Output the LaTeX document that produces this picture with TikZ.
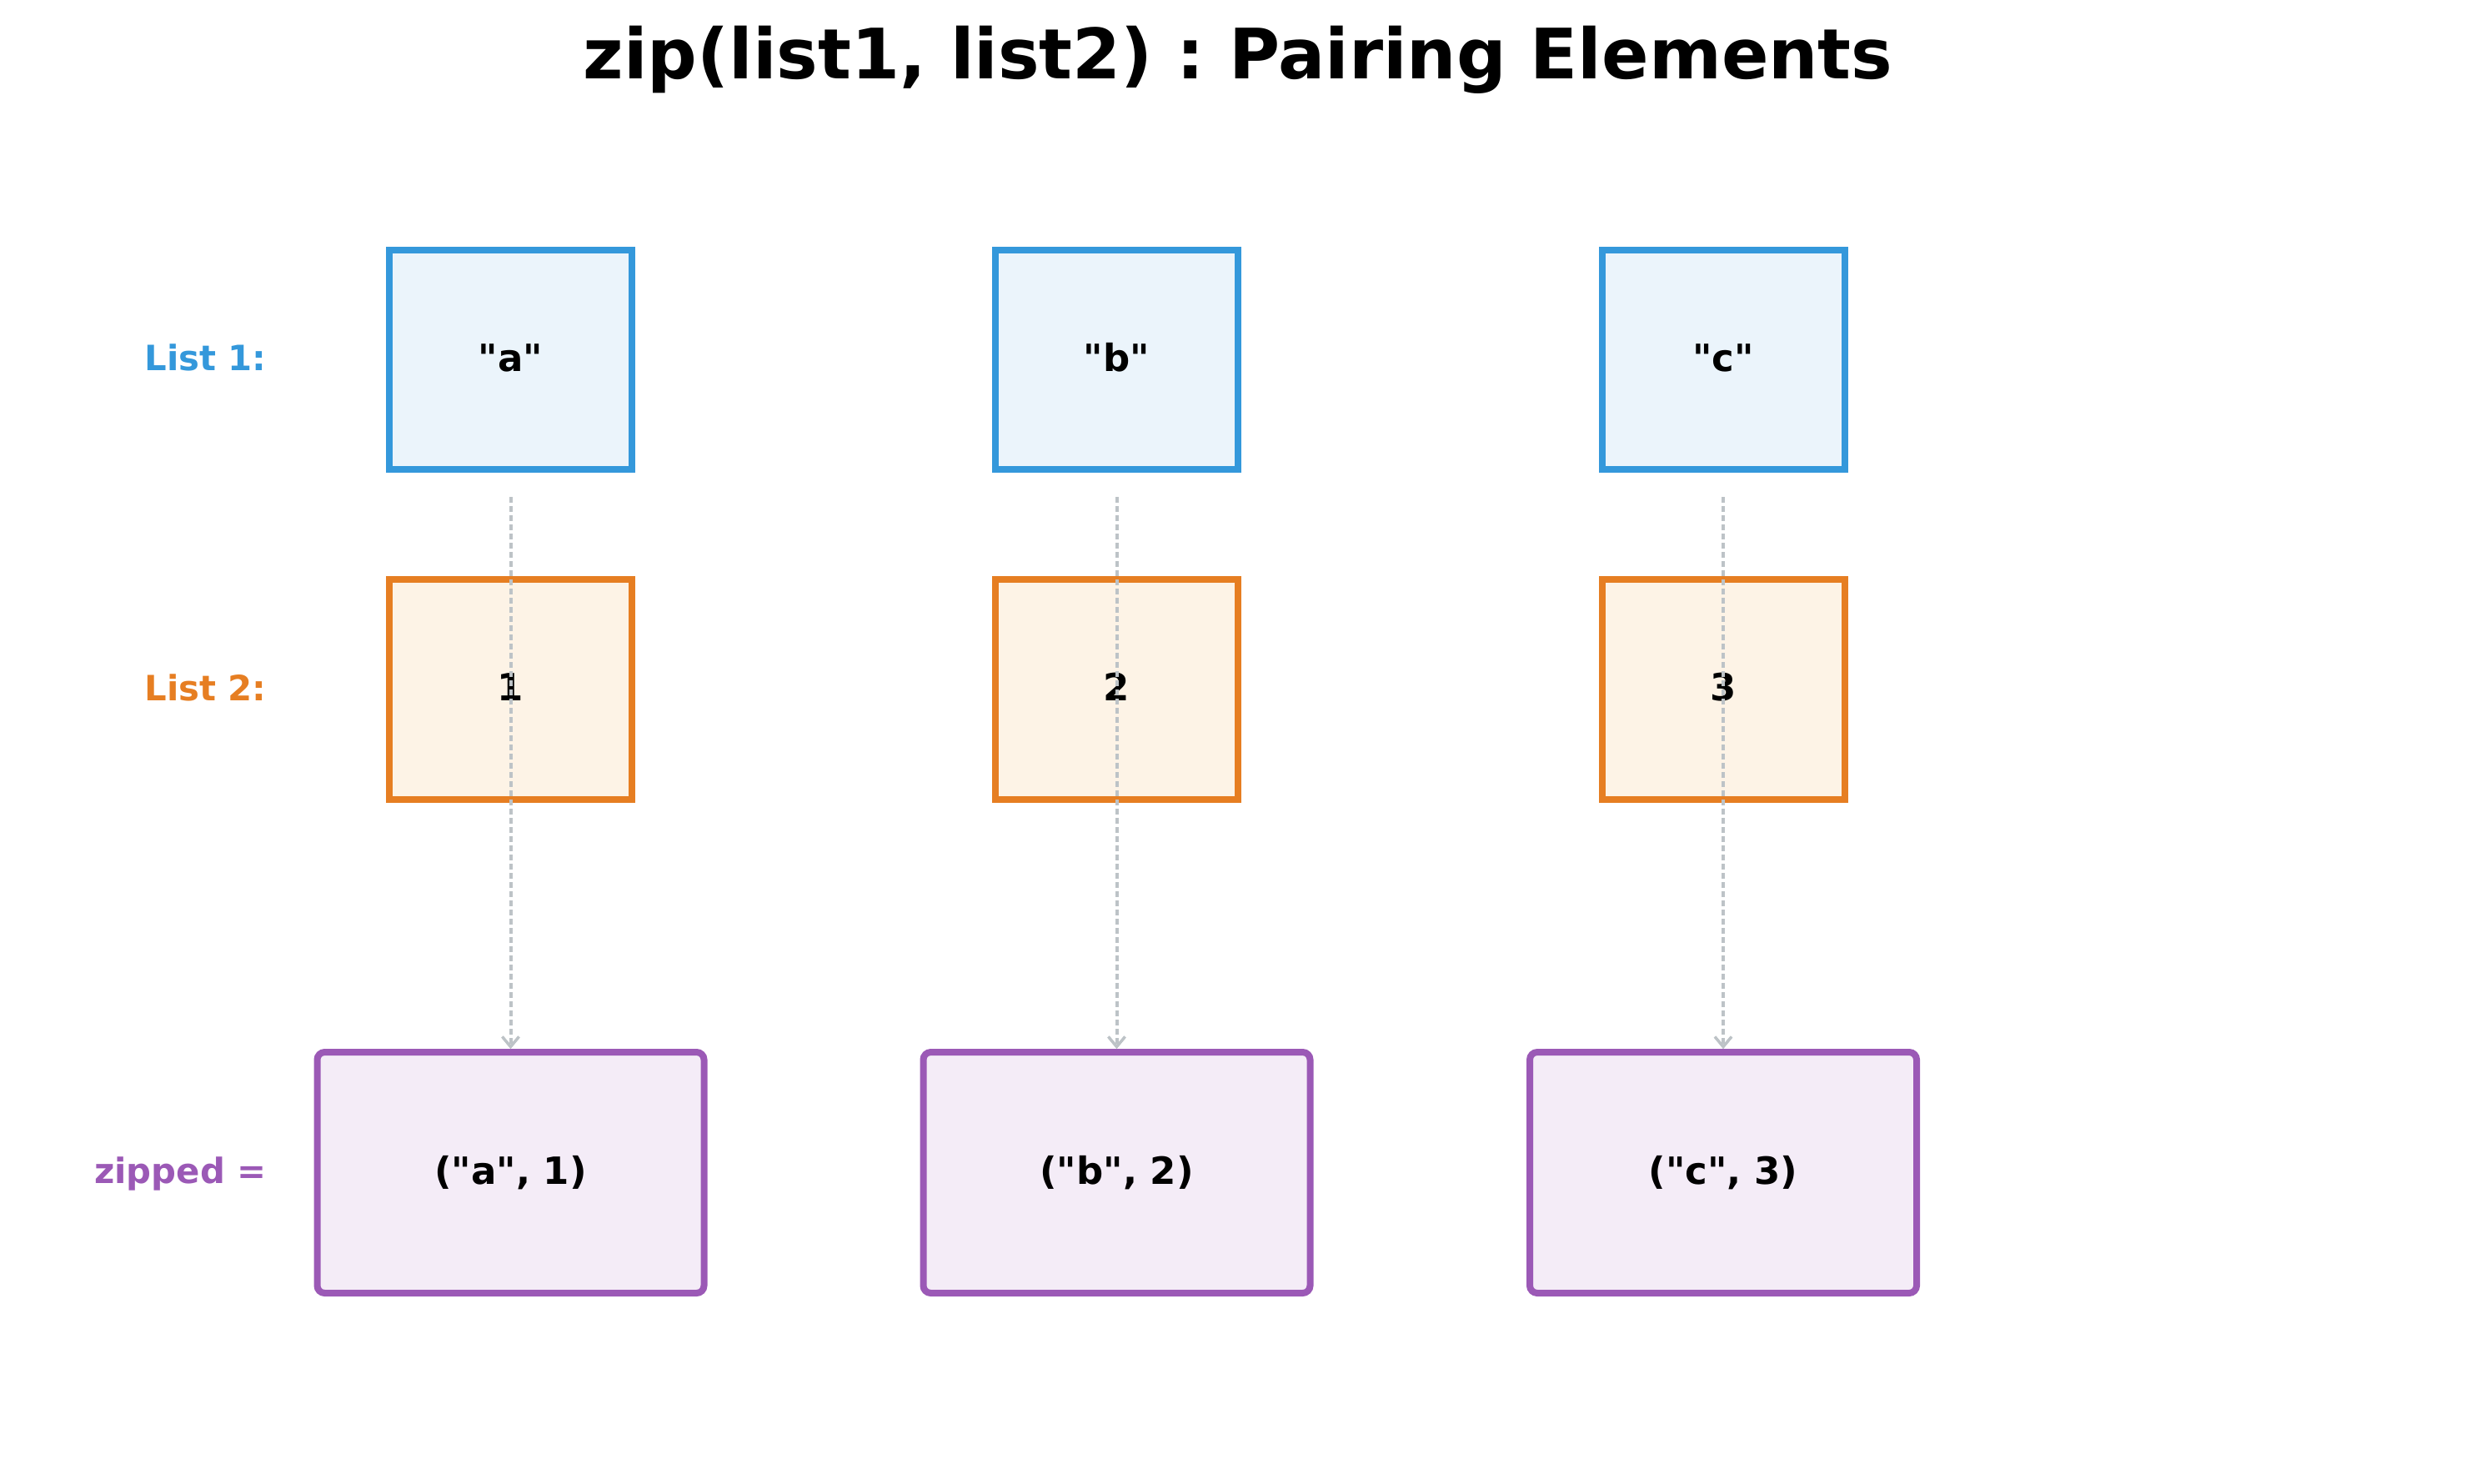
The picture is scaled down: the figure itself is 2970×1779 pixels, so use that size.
\documentclass[tikz,border=0pt]{standalone}
\usepackage{fontspec}
\setmainfont{DejaVu Sans}[Ligatures=TeXReset]
\usetikzlibrary{arrows.meta}
\definecolor{lblue}{HTML}{3498DB}
\definecolor{fblue}{HTML}{EBF4FB}
\definecolor{lorange}{HTML}{E67E22}
\definecolor{forange}{HTML}{FDF3E6}
\definecolor{lpurple}{HTML}{9B59B6}
\definecolor{fpurple}{HTML}{F4ECF7}
\definecolor{agray}{HTML}{BDC3C7}
\newcommand\dq{\symbol{34}}
\frenchspacing
\tikzset{
  txt/.style={font=\fontsize{22.5pt}{27pt}\selectfont\bfseries, text height=18pt, text depth=4.5pt, inner sep=0pt},
  elbox/.style={txt, draw, line width=4pt, minimum width=145.5pt, minimum height=131.5pt, text=black},
  l1box/.style={elbox, draw=lblue, fill=fblue},
  l2box/.style={elbox, draw=lorange, fill=forange, minimum height=132pt},
  zbox/.style={txt, draw=lpurple, fill=fpurple, line width=4pt, rounded corners=4.5pt, minimum width=232pt, minimum height=144.5pt, text=black},
  rowlabel/.style={txt, font=\fontsize{20.9pt}{25pt}\selectfont\bfseries, text height=17pt, text depth=4pt, anchor=east},
  arr/.style={draw=agray, line width=2pt, dash pattern=on 3.5pt off 2pt, -{Straight Barb[length=6pt,width=10pt,line width=1.6pt]}},
}
\begin{document}
\begin{tikzpicture}[x=0.5pt,y=-0.5pt]
\useasboundingbox (0,0) rectangle (2970,1779);
\node[font=\fontsize{41.7pt}{50pt}\selectfont\bfseries, anchor=base, inner sep=0pt] (title) at (1485,94) {zip(list1, list2) : Pairing Elements};

\node[rowlabel, text=lblue] (lab1) at (320,431.5) {List 1:};
\node[rowlabel, text=lorange] (lab2) at (320,827) {List 2:};
\node[rowlabel, text=lpurple] (labz) at (320,1406.5) {zipped =};

\node[l1box] (a) at (612.5,431.5) {\dq a\dq};
\node[l1box] (b) at (1339.5,431.5) {\dq b\dq};
\node[l1box] (c) at (2067,431.5) {\dq c\dq};

\node[l2box] (n1) at (612.5,827) {1};
\node[l2box] (n2) at (1339.5,827) {2};
\node[l2box] (n3) at (2067,827) {3};

\node[zbox] (za) at (612.5,1406.5) {(\dq a\dq, 1)};
\node[zbox] (zb) at (1339.5,1406.5) {(\dq b\dq, 2)};
\node[zbox] (zc) at (2067,1406.5) {(\dq c\dq, 3)};

\foreach \s/\m/\z in {a/n1/za, b/n2/zb, c/n3/zc}{
  \draw[arr] ([yshift=-14.5pt]\s.south) -- (\z.north);
  \draw[arr, dash phase=2pt] (\m.south) -- (\z.north);
}
\end{tikzpicture}
\end{document}
